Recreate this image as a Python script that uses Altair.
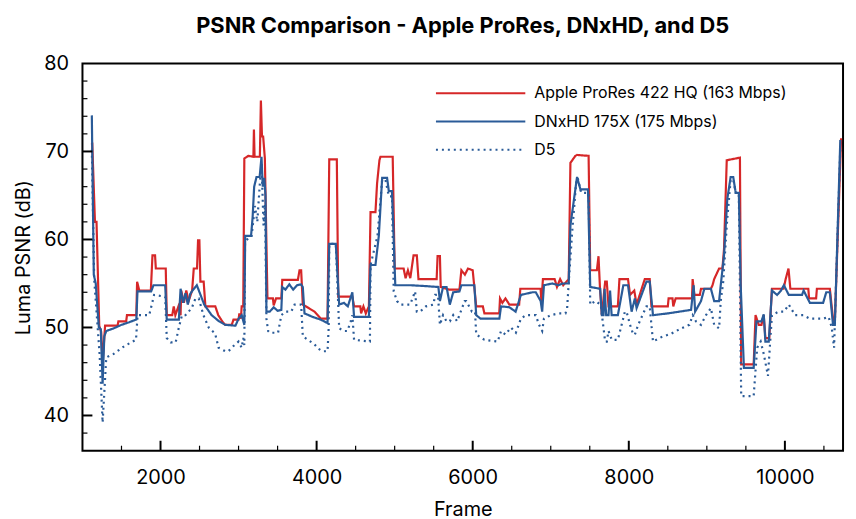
import altair as alt
import pandas as pd

# ---------------- data ----------------
SERIES = ["Apple ProRes 422 HQ (163 Mbps)", "DNxHD 175X (175 Mbps)", "D5"]

prores_frame = [1120, 1125, 1160, 1180, 1215, 1240, 1258, 1290, 1450, 1460, 1560, 1570, 1690, 1700, 1728, 1876, 1897, 1930, 1940, 2067,
                2080, 2150, 2170, 2190, 2230, 2257, 2265, 2300, 2330, 2360, 2405, 2426, 2468, 2481, 2498, 2511, 2553, 2575, 2702, 2740,
                2790, 2829, 2913, 2935, 3000, 3010, 3030, 3040, 3060, 3074, 3125, 3190, 3197, 3205, 3273, 3286, 3300, 3315, 3337, 3370,
                3440, 3450, 3480, 3548, 3560, 3760, 3781, 3802, 3823, 3900, 3972, 4056, 4140, 4162, 4259, 4277, 4458, 4480, 4560, 4570,
                4600, 4630, 4670, 4691, 4754, 4775, 4805, 4818, 4975, 5000, 5115, 5140, 5170, 5200, 5242, 5284, 5305, 5538, 5550, 5580,
                5590, 5700, 5830, 5855, 5900, 5940, 6000, 6045, 6130, 6150, 6340, 6350, 6380, 6420, 6470, 6595, 6610, 6870, 6880, 6900,
                7050, 7080, 7120, 7160, 7230, 7252, 7315, 7337, 7485, 7506, 7591, 7612, 7630, 7655, 7697, 7718, 7740, 7860, 7880, 7990,
                8016, 8070, 8100, 8205, 8268, 8290, 8500, 8510, 8560, 8570, 8600, 8810, 8818, 8840, 8910, 8925, 9052, 9073, 9094, 9157,
                9200, 9220, 9255, 9424, 9440, 9600, 9624, 9665, 9700, 9729, 9750, 9800, 9834, 9983, 10010, 10046, 10070, 10300, 10310, 10400,
                10410, 10576, 10620, 10640, 10720]
prores_psnr = [70.8, 71.0, 62.0, 62.0, 50.2, 49.5, 46.0, 50.2, 50.2, 50.7, 50.7, 51.4, 51.4, 55.2, 54.2, 54.2, 58.2, 58.2, 56.7, 56.7,
               51.4, 51.4, 52.4, 51.4, 52.4, 51.4, 54.2, 52.8, 54.2, 53.0, 54.2, 56.7, 56.7, 59.9, 59.9, 55.2, 55.2, 52.4, 52.4, 51.4,
               50.7, 50.3, 50.3, 50.9, 50.9, 51.6, 51.0, 52.4, 52.4, 69.2, 69.5, 69.4, 72.5, 69.4, 69.4, 75.8, 71.7, 71.7, 69.2, 53.3,
               53.3, 52.5, 53.3, 53.3, 55.4, 55.4, 56.5, 56.5, 52.6, 52.2, 51.8, 51.0, 51.0, 69.1, 69.1, 53.5, 53.5, 52.4, 52.4, 51.6,
               52.4, 51.6, 52.4, 63.1, 63.1, 66.4, 69.0, 69.4, 69.4, 56.7, 56.7, 55.6, 56.5, 55.6, 58.2, 58.2, 55.5, 55.5, 58.1, 58.1,
               54.6, 54.3, 54.3, 56.5, 56.0, 56.7, 56.5, 52.4, 52.4, 51.6, 51.6, 53.3, 52.8, 53.3, 52.6, 52.6, 54.4, 54.4, 53.0, 55.5,
               55.5, 54.6, 55.5, 54.8, 55.5, 68.7, 69.5, 69.6, 69.5, 56.5, 56.5, 58.1, 54.6, 51.4, 55.2, 55.2, 52.4, 52.4, 55.5, 55.5,
               53.7, 54.2, 52.6, 55.5, 55.5, 52.4, 52.4, 53.3, 53.3, 52.4, 53.3, 53.3, 55.5, 53.7, 53.7, 54.4, 54.4, 54.8, 55.5, 56.7,
               56.7, 58.9, 69.0, 69.3, 45.8, 45.8, 51.4, 50.3, 50.3, 51.4, 48.8, 48.8, 54.4, 54.4, 55.5, 56.7, 54.4, 54.4, 53.3, 53.3,
               54.4, 54.4, 50.7, 50.7, 71.5]

dnxhd_frame = [1120, 1145, 1170, 1210, 1235, 1258, 1280, 1305, 1400, 1500, 1600, 1690, 1705, 1880, 1910, 2060, 2080, 2235, 2257, 2290,
               2320, 2350, 2380, 2410, 2465, 2500, 2560, 2655, 2750, 2830, 2960, 3000, 3040, 3074, 3085, 3160, 3180, 3200, 3230, 3270,
               3294, 3310, 3330, 3345, 3357, 3400, 3450, 3500, 3548, 3560, 3600, 3650, 3700, 3750, 3800, 3823, 3845, 3950, 4050, 4140,
               4162, 4246, 4289, 4350, 4400, 4458, 4480, 4670, 4691, 4754, 4797, 4840, 4903, 4925, 4966, 4988, 5008, 5200, 5400, 5560,
               5580, 5620, 5665, 5707, 5750, 5830, 5855, 6021, 6045, 6100, 6342, 6363, 6469, 6550, 6617, 6766, 6808, 6871, 6890, 6913,
               7020, 7100, 7150, 7230, 7252, 7337, 7380, 7477, 7506, 7633, 7655, 7676, 7690, 7710, 7740, 7760, 7780, 7860, 7930, 7990,
               8036, 8078, 8100, 8226, 8268, 8310, 8500, 8798, 8831, 8850, 8925, 8968, 9052, 9094, 9157, 9178, 9220, 9262, 9305, 9338,
               9370, 9410, 9433, 9475, 9600, 9636, 9700, 9729, 9750, 9793, 9834, 9900, 9950, 9987, 10050, 10220, 10240, 10320, 10490, 10530,
               10576, 10617, 10640, 10710]
dnxhd_psnr = [74.1, 56.0, 55.0, 50.0, 49.8, 43.6, 49.0, 49.6, 49.9, 50.3, 50.6, 50.9, 54.1, 54.1, 54.8, 54.8, 50.9, 50.9, 54.4, 52.8,
              53.9, 52.6, 53.8, 54.2, 54.8, 54.0, 52.6, 51.4, 50.7, 50.3, 50.2, 51.0, 51.4, 50.3, 60.4, 60.4, 62.5, 66.0, 67.1, 67.1,
              69.4, 66.0, 67.0, 65.0, 51.8, 51.8, 52.3, 51.9, 52.0, 54.6, 54.3, 54.9, 54.3, 54.8, 54.9, 54.6, 51.6, 51.2, 50.9, 50.5,
              59.5, 59.5, 52.6, 52.8, 52.4, 54.0, 51.2, 51.2, 57.1, 57.1, 60.4, 67.0, 67.0, 65.5, 65.5, 60.0, 54.8, 54.8, 54.7, 54.6,
              53.0, 54.6, 54.6, 52.6, 54.0, 54.1, 54.8, 54.8, 51.4, 51.0, 51.0, 52.4, 52.3, 51.8, 53.7, 54.0, 54.0, 53.0, 51.8, 54.8,
              55.0, 54.8, 55.0, 55.0, 61.6, 67.1, 65.7, 65.7, 54.6, 54.4, 51.4, 51.4, 54.4, 51.4, 51.4, 54.2, 51.4, 51.4, 54.8, 54.8,
              51.8, 53.3, 52.2, 55.2, 55.2, 51.4, 51.6, 52.0, 54.8, 51.8, 53.0, 54.4, 54.4, 53.0, 53.0, 54.8, 58.2, 64.6, 67.1, 67.1,
              65.3, 65.3, 55.0, 45.4, 45.4, 50.7, 50.7, 51.5, 48.4, 48.4, 54.2, 53.7, 54.2, 54.8, 53.7, 53.7, 54.2, 52.8, 52.8, 54.0,
              54.0, 50.3, 50.3, 71.3]

d5_frame = [1120, 1150, 1220, 1258, 1305, 1400, 1540, 1686, 1706, 1855, 1918, 2060, 2080, 2130, 2194, 2235, 2275, 2320, 2400, 2448,
            2490, 2550, 2617, 2700, 2744, 2830, 2870, 2935, 3000, 3040, 3060, 3074, 3083, 3146, 3167, 3210, 3240, 3273, 3294, 3320,
            3340, 3357, 3379, 3400, 3506, 3548, 3600, 3675, 3718, 3802, 3823, 3887, 3972, 4020, 4077, 4140, 4155, 4162, 4246, 4289,
            4353, 4395, 4437, 4458, 4480, 4683, 4691, 4780, 4840, 4882, 4925, 4966, 4988, 5030, 5072, 5199, 5262, 5284, 5326, 5400,
            5496, 5520, 5555, 5580, 5620, 5665, 5707, 5750, 5800, 5897, 5918, 5990, 6030, 6045, 6150, 6320, 6363, 6420, 6490, 6553,
            6617, 6680, 6808, 6850, 6890, 6913, 7000, 7104, 7189, 7210, 7231, 7274, 7325, 7345, 7390, 7485, 7506, 7570, 7640, 7697,
            7718, 7740, 7782, 7860, 7950, 7971, 8016, 8057, 8078, 8120, 8226, 8268, 8310, 8417, 8544, 8671, 8776, 8820, 8860, 8925,
            8989, 9052, 9094, 9157, 9178, 9210, 9255, 9305, 9338, 9370, 9410, 9440, 9600, 9645, 9690, 9729, 9783, 9834, 9920, 9990,
            10050, 10131, 10236, 10320, 10490, 10560, 10600, 10630, 10710]
d5_psnr = [70.2, 55.5, 46.9, 39.2, 46.6, 47.0, 47.9, 48.6, 51.4, 51.4, 53.7, 53.5, 48.8, 48.3, 48.3, 50.0, 51.4, 51.4, 52.2, 53.3,
           53.3, 51.4, 50.0, 49.3, 47.7, 47.3, 47.3, 47.9, 48.4, 47.7, 48.8, 48.0, 59.7, 60.4, 60.4, 63.8, 62.0, 66.4, 68.7, 61.6,
           64.0, 51.0, 49.6, 49.4, 49.4, 51.4, 51.8, 51.8, 52.6, 52.6, 49.0, 48.6, 48.1, 47.6, 47.3, 47.3, 50.0, 59.5, 59.5, 49.9,
           49.6, 49.6, 50.7, 51.4, 48.6, 48.4, 57.1, 60.4, 66.8, 66.8, 64.9, 64.9, 54.1, 53.0, 52.6, 52.6, 54.1, 51.8, 51.8, 52.4,
           52.6, 53.7, 53.7, 50.3, 51.4, 50.7, 50.7, 51.4, 50.7, 53.0, 53.0, 51.8, 51.8, 49.2, 48.6, 48.4, 49.6, 49.2, 50.0, 49.4,
           51.0, 51.4, 51.4, 50.3, 49.6, 51.0, 51.4, 51.6, 51.6, 52.2, 55.2, 60.8, 66.4, 67.0, 65.3, 65.3, 52.6, 53.0, 52.6, 48.4,
           48.4, 49.6, 48.6, 48.6, 51.8, 51.8, 50.3, 49.2, 49.2, 50.3, 52.4, 52.4, 48.4, 48.9, 49.3, 49.9, 50.3, 51.4, 50.7, 50.3,
           51.4, 52.2, 50.3, 49.9, 53.0, 55.2, 61.6, 66.8, 66.8, 65.3, 65.3, 42.2, 42.2, 47.7, 48.4, 47.0, 44.5, 51.4, 51.8, 51.8,
           52.6, 51.4, 51.4, 51.0, 51.0, 51.2, 50.0, 47.7, 70.5]

x_major = [2000, 4000, 6000, 8000, 10000]
x_minor = [1500, 2500, 3000, 3500, 4500, 5000, 5500, 6500, 7000, 7500, 8500, 9000, 9500, 10500]
y_major = [40, 50, 60, 70, 80]
y_minor = [38, 42, 44, 46, 48, 52, 54, 56, 58, 62, 64, 66, 68, 72, 74, 76, 78]

# ---------------- build tables ----------------
rows = []
for name, fr, ps in zip(SERIES, [prores_frame, dnxhd_frame, d5_frame], [prores_psnr, dnxhd_psnr, d5_psnr]):
    for f, p in zip(fr, ps):
        rows.append({"series": name, "frame": f, "psnr": p})
df = pd.DataFrame(rows)

W, H = 766, 390
RED, BLUE = "#d62728", "#2a5b98"
FONT = "Inter"

xscale = alt.Scale(domain=[1000, 10745], nice=False, zero=False)
yscale = alt.Scale(domain=[36, 80], nice=False, zero=False)

# long horizontal legend stroke: custom path scaled by sqrt(size)/2
LEG_PATH = "M-1,0H17"
leg = dict(title=None, orient="none", legendX=353, legendY=22,
           symbolType=LEG_PATH, symbolSize=100, symbolStrokeWidth=2,
           labelFontSize=16, labelFont=FONT, labelColor="black",
           labelOffset=86, rowPadding=12.5, padding=0, labelLimit=400)

lines = alt.Chart(df).mark_line(strokeWidth=2.2, clip=True).encode(
    x=alt.X("frame:Q", scale=xscale,
            axis=alt.Axis(values=x_major, title="Frame", grid=False, domain=False, ticks=False, tickSize=0,
                          labelPadding=17, titlePadding=12, format="d")),
    y=alt.Y("psnr:Q", scale=yscale,
            axis=alt.Axis(values=y_major, title="Luma PSNR (dB)", grid=False, domain=False, ticks=False, tickSize=0,
                          labelPadding=14, titlePadding=10)),
    color=alt.Color("series:N", scale=alt.Scale(domain=SERIES, range=[RED, BLUE, BLUE]), legend=alt.Legend(**leg)),
    strokeDash=alt.StrokeDash("series:N", scale=alt.Scale(domain=SERIES, range=[[1, 0], [1, 0], [2, 4]]),
                              legend=alt.Legend(**leg)),
)

xmaj = alt.Chart(pd.DataFrame({"v": x_major})).mark_rule(color="black", strokeWidth=2).encode(
    x=alt.X("v:Q", scale=xscale), y=alt.value(H), y2=alt.value(H - 10))
xmin = alt.Chart(pd.DataFrame({"v": x_minor})).mark_rule(color="black", strokeWidth=1.2).encode(
    x=alt.X("v:Q", scale=xscale), y=alt.value(H), y2=alt.value(H - 5))
ymaj = alt.Chart(pd.DataFrame({"v": y_major[:-1]})).mark_rule(color="black", strokeWidth=2).encode(
    y=alt.Y("v:Q", scale=yscale), x=alt.value(0), x2=alt.value(10))
ymin = alt.Chart(pd.DataFrame({"v": y_minor})).mark_rule(color="black", strokeWidth=1.2).encode(
    y=alt.Y("v:Q", scale=yscale), x=alt.value(0), x2=alt.value(5))

chart = alt.layer(lines, xmaj, xmin, ymaj, ymin).properties(
    width=W, height=H, background="white",
    title=alt.TitleParams("PSNR Comparison - Apple ProRes, DNxHD, and D5", font=FONT, fontSize=22,
                          fontWeight="bold", color="black", offset=16),
).configure_view(stroke="black", strokeWidth=2).configure_axis(
    labelFont=FONT, labelFontSize=20, labelColor="black", titleFont=FONT, titleFontSize=20,
    titleColor="black", titleFontWeight="normal"
)

chart.save("out.html", embed_options={"renderer": "svg", "actions": False})
